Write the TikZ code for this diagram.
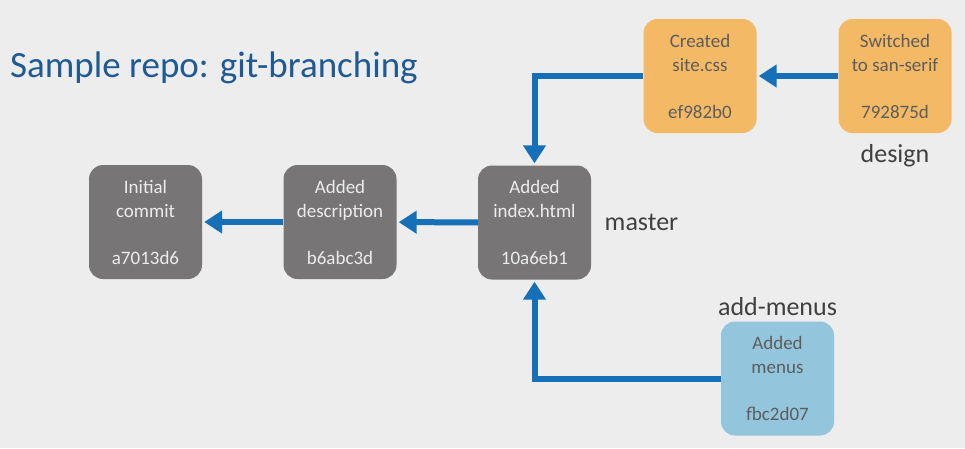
\documentclass[tikz,border=0pt]{standalone}
\usepackage{fontspec}
\setmainfont{Carlito}
\usepackage{tikz}
\usetikzlibrary{arrows.meta}
\usetikzlibrary{positioning}
\definecolor{mbg}{HTML}{EDEDEE}
\definecolor{mgray}{HTML}{777575}
\definecolor{morange}{HTML}{F3B964}
\definecolor{mlblue}{HTML}{93C5DD}
\definecolor{marrow}{HTML}{1570B8}
\definecolor{mtitle}{HTML}{1F5A93}
\definecolor{mtext}{HTML}{404040}
\tikzset{commit/.style = {rounded corners = 14pt, minimum width = 113pt, minimum height = 114pt,
                          inner sep = 0, align = center, font = \fontsize{19}{24}\selectfont}}
\tikzset{oldc/.style = {commit, fill = mgray, text = mbg}}
\tikzset{designc/.style = {commit, fill = morange, text = mtext!85}}
\tikzset{menuc/.style = {commit, fill = mlblue, text = mtext!85}}
\tikzset{link/.style = {draw = marrow, line width = 6pt, shorten > = 2pt,
                        -{Triangle[width = 22pt, length = 18pt]}}}
\tikzset{branch/.style = {text = mtext, font = \fontsize{26}{30}\selectfont}}

\begin{document}
\begin{tikzpicture}[x=1pt, y=-1pt]
      \fill [mbg] (0, 0) rectangle (965, 448);
      \useasboundingbox (0, 0) rectangle (965, 448);

      \node [anchor = base west, text = mtitle, font = \fontsize{37}{44}\selectfont, inner sep = 0]
        (title) at (10, 77) {Sample repo: git-branching};

      \node [oldc] (init) at (145.5, 222) {Initial\\commit\\[23pt]a7013d6};
      \node [oldc] (desc) at (340, 222) {Added\\description\\[23pt]b6abc3d};
      \node [oldc] (index) at (534.5, 222.5) {Added\\index.html\\[23pt]10a6eb1};
      \node [designc] (css) at (700, 76) {Created\\site.css\\[23pt]ef982b0};
      \node [designc] (serif) at (895, 76) {Switched\\to san-serif\\[23pt]792875d};
      \node [menuc] (menus) at (777.5, 378.5) {Added\\menus\\[23pt]fbc2d07};

      \node [branch, right = 10pt of index] (master) {master};
      \node [branch, below = 8pt of serif] (design) {design};
      \node [branch, above = 2pt of menus] (addmenus) {add-menus};

      \draw [link] (desc) -- (init);
      \draw [link] (index) -- (desc);
      \draw [link] (serif) -- (css);
      \draw [link] (css.west) -| (index.north);
      \draw [link] (menus.west) -| (index.south);
    \end{tikzpicture}
\end{document}
